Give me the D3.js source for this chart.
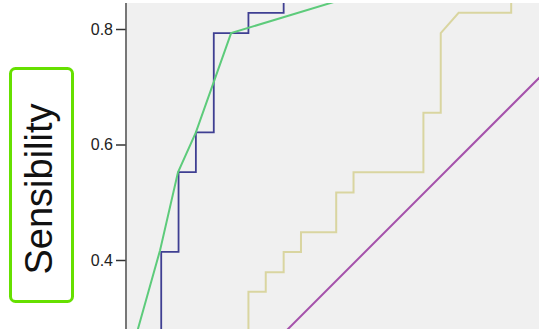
<!DOCTYPE html>
<html>
<head>
<meta charset="utf-8">
<script src="https://cdn.jsdelivr.net/npm/d3@7"></script>
<style>
body {margin:0; background:#fff;}
svg {display:block;}
</style>
</head>
<body>
<div id="plot"></div>
<script>
/* ROC curves, 1 - specificity vs sensitivity */
var blueFpr = [0.061,0.061,0.091,0.091,0.121,0.121,0.152,0.152,0.212,0.212,0.273,0.273];
var blueTpr = [0.207,0.414,0.414,0.552,0.552,0.621,0.621,0.793,0.793,0.828,0.828,0.897];

var greenFpr = [0,0.059,0.090,0.121,0.182,0.45];
var greenTpr = [0.207,0.417,0.552,0.621,0.793,0.874];

var khakiFpr = [0.212,0.212,0.242,0.242,0.273,0.273,0.303,0.303,0.364,0.364,0.394,0.394,0.515,0.515,0.545,0.545,0.576,0.667,0.667];
var khakiTpr = [0.241,0.345,0.345,0.379,0.379,0.414,0.414,0.448,0.448,0.517,0.517,0.552,0.552,0.655,0.655,0.793,0.828,0.828,0.897];

var refFpr = [0,1];
var refTpr = [0,1];

var yTicks = [0.4,0.6,0.8];
var yLabel = 'Sensibility';

var W = 539, H = 329;
var box = {l:127, t:3, r:539, b:329};

var x = d3.scaleLinear().domain([0,1]).range([126,703.5]);
var y = d3.scaleLinear().domain([0,1]).range([491,-86.5]);

var svg = d3.select('#plot')
	.append('svg')
	.attr('width',W)
	.attr('height',H);

svg.append('defs').append('clipPath')
	.attr('id','clip')
	.append('rect')
	.attr('x',box.l).attr('y',box.t)
	.attr('width',box.r-box.l).attr('height',box.b-box.t);

svg.append('rect')
	.attr('x',box.l).attr('y',box.t)
	.attr('width',box.r-box.l).attr('height',box.b-box.t)
	.style('fill','#f0f0f0');

function pts(xs, ys) {
	return xs.map(function (d,i) {return [d, ys[i]];});
}

var line = d3.line()
	.x(function (d) {return x(d[0]);})
	.y(function (d) {return y(d[1]);});

var series = [
	{data:pts(refFpr,refTpr), color:'#a552ab', w:2},
	{data:pts(khakiFpr,khakiTpr), color:'#d9d5a0', w:2},
	{data:pts(blueFpr,blueTpr), color:'#3f3f92', w:1.8},
	{data:pts(greenFpr,greenTpr), color:'#5dcb7b', w:2}
];

svg.append('g')
	.attr('clip-path','url(#clip)')
	.selectAll('path')
	.data(series)
	.enter()
	.append('path')
	.attr('d', function (d) {return line(d.data);})
	.style('fill','none')
	.style('stroke', function (d) {return d.color;})
	.style('stroke-width', function (d) {return d.w;})
	.style('stroke-linejoin','miter');

var yAxis = svg.append('g')
	.attr('transform','translate(126,0)')
	.call(d3.axisLeft(y).tickValues(yTicks).tickFormat(d3.format('.1f')).tickSize(10).tickPadding(3));

yAxis.select('.domain').remove();
yAxis.selectAll('line').style('stroke','#333').style('stroke-width',1.5);
yAxis.selectAll('text')
	.style('font-family','"Liberation Sans", Arial, sans-serif')
	.style('font-size','16px')
	.style('fill','#222');

svg.append('line')
	.attr('x1',126).attr('x2',126)
	.attr('y1',box.t).attr('y2',box.b)
	.style('stroke','#555')
	.style('stroke-width',1.6);

// highlighted axis title
svg.append('rect')
	.attr('x',10.5).attr('y',68.5)
	.attr('width',62).attr('height',233)
	.attr('rx',5)
	.style('fill','#fff')
	.style('stroke','#66e000')
	.style('stroke-width',3);

svg.append('text')
	.attr('transform','translate(52,189) rotate(-90)')
	.attr('text-anchor','middle')
	.style('font-family','"Liberation Sans", Arial, sans-serif')
	.style('font-size','38px')
	.style('fill','#111')
	.text(yLabel);
</script>
</body>
</html>
